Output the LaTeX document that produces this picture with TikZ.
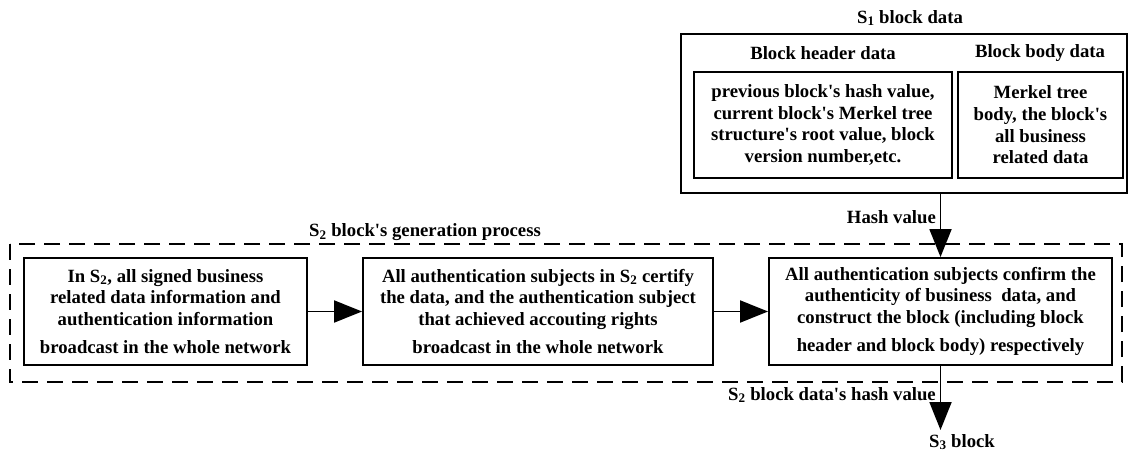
\documentclass[tikz,border=0pt]{standalone}
\usepackage{fontspec}
\setmainfont{Liberation Serif}
\usetikzlibrary{arrows.meta}
\newcommand{\apo}{\textquotesingle}
\begin{document}
\begin{tikzpicture}[x=1pt,y=-1pt,
  every node/.style={font=\fontsize{18.7}{21.7}\selectfont\bfseries, inner sep=0pt},
  solidbox/.style={draw, line width=1.9pt, align=center, anchor=center},
  lbl/.style={align=center},
  arr/.style={line width=1.9pt, -{Triangle[length=28pt,width=22pt]}},
  dashbox/.style={draw, line width=1.9pt, dash pattern=on 16pt off 9pt}]
\useasboundingbox (0,0) rectangle (1128,452);
% S1 block data
\node[solidbox, minimum width=446pt, minimum height=159pt] (outer) at (904,113.5) {};
\node[lbl] (s1title) at (910,18) {S\textsubscript{1} block data};
\node[lbl] (hdrtitle) at (823,53) {Block header data};
\node[lbl] (bodytitle) at (1040,53) {Block body data};
\node[solidbox, minimum width=258pt, minimum height=106pt] (hdr) at (823,125)
  {previous block\apo s hash value,\\current block\apo s Merkel tree\\structure\apo s root value, block\\version number,etc.};
\node[solidbox, minimum width=165pt, minimum height=106pt] (body) at (1040.5,125)
  {Merkel tree\\body, the block\apo s\\all business\\related data};
% S2 generation process
\draw[dashbox] (10,244) rectangle (1122,382);
\node[lbl] (s2title) at (425,232) {S\textsubscript{2} block\apo s generation process};
\node[solidbox, minimum width=283pt, minimum height=107pt] (b1) at (165.5,311.5)
  {In S\textsubscript{2}, all signed business\\related data information and\\authentication information\\[6.5pt]broadcast in the whole network};
\node[solidbox, minimum width=350pt, minimum height=107pt] (b2) at (538,311.5)
  {All authentication subjects in S\textsubscript{2} certify\\the data, and the authentication subject\\that achieved accouting rights\\[6.5pt]broadcast in the whole network};
\node[solidbox, minimum width=343pt, minimum height=107pt] (b3) at (940.5,311.5)
  {All authentication subjects confirm the\\authenticity of business\ \ data, and\\construct the block (including block\\[6.5pt]header and block body) respectively};
% connectors
\draw[arr] (b1) -- (b2);
\draw[arr] (b2) -- (b3);
\draw[arr] (b3.north |- outer.south) -- (b3.north);
\node[lbl, anchor=east] (hashlbl) at (936,217) {Hash value};
\coordinate (s3pt) at (940.5,430);
\draw[arr] (b3.south) -- (s3pt);
\node[lbl, anchor=east] (s2hash) at (936,395) {S\textsubscript{2} block data\apo s hash value};
\node[lbl] (s3) at (962,442) {S\textsubscript{3} block};
\end{tikzpicture}
\end{document}
